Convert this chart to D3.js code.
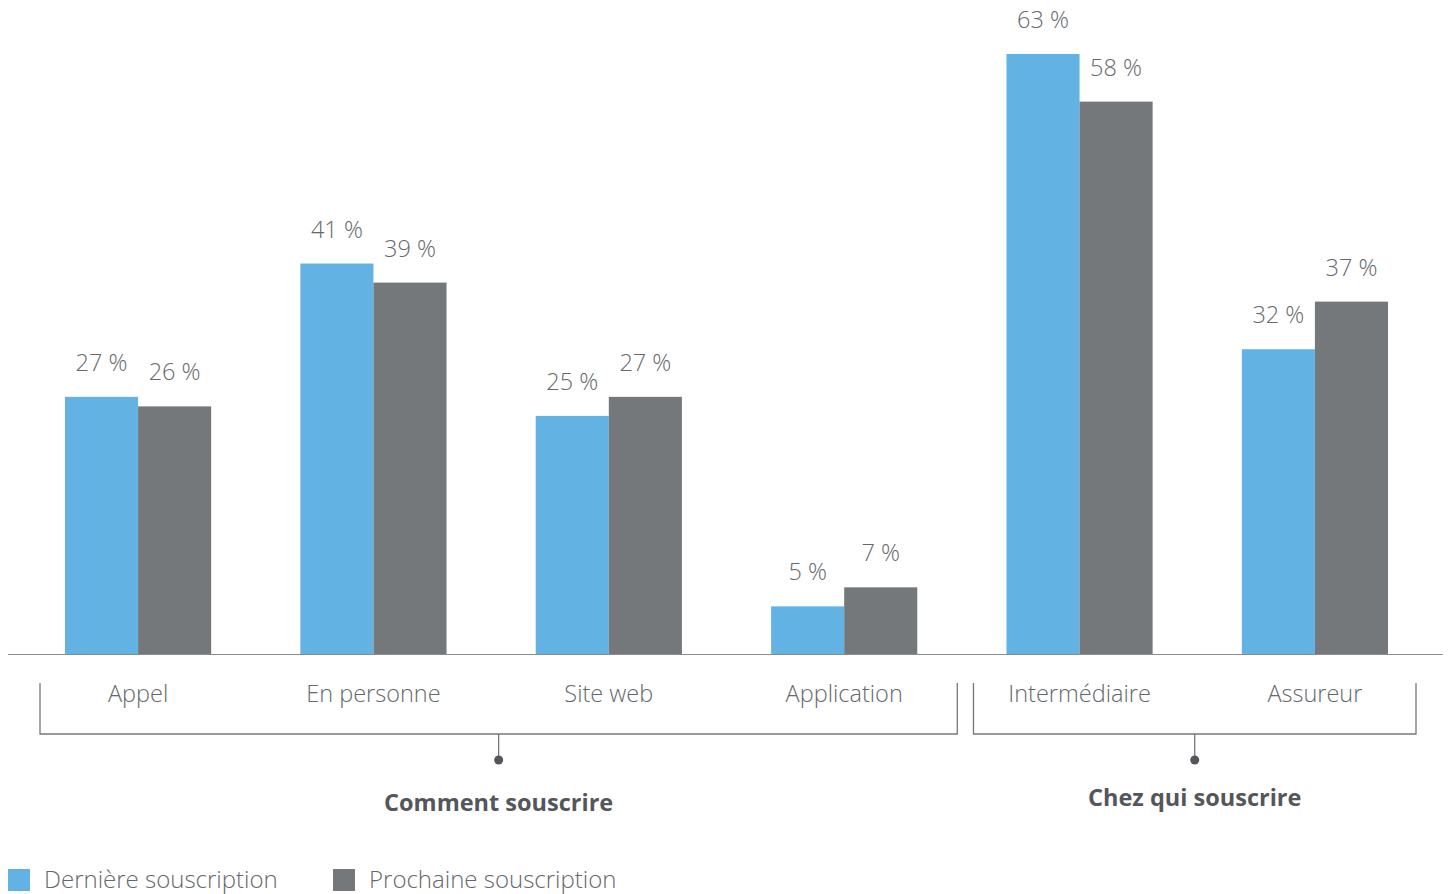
<!DOCTYPE html>
<html><head><meta charset="utf-8">
<script src="https://cdn.jsdelivr.net/npm/d3@7"></script>
<style>body{margin:0;background:#fff}svg{display:block;font-family:"Open Sans",sans-serif}</style>
</head><body><svg id="c" width="1448" height="894"></svg>
<script>
const categories = ["Appel","En personne","Site web","Application","Intermédiaire","Assureur"];
const series = ["Dernière souscription","Prochaine souscription"];
const derniere = [27,41,25,5,63,32];
const prochaine = [26,39,27,7,58,37];
const groups = [
  {label:"Comment souscrire", first:"Appel", last:"Application", padL:25, padR:40, titleY:811},
  {label:"Chez qui souscrire", first:"Intermédiaire", last:"Assureur", padL:33, padR:28, titleY:806}
];
const colors = ["#62b3e4","#75787b"];
const textCol = "#65686b";

const svg = d3.select("#c");
const x = d3.scaleBand().domain(categories).range([20.4,1432.6]).paddingInner(0.379).paddingOuter(0.1895);
const xs = d3.scaleBand().domain(series).range([0,x.bandwidth()]);
const y = d3.scaleLinear().domain([0,63]).range([654,54]);

const data = categories.map((c,i)=>({c, vals:[derniere[i],prochaine[i]]}));
const g = svg.selectAll("g.grp").data(data).join("g").attr("transform",d=>`translate(${x(d.c)},0)`);
g.selectAll("rect").data(d=>d.vals.map((v,j)=>({v,s:series[j],j}))).join("rect")
  .attr("x",d=>xs(d.s)).attr("width",xs.bandwidth())
  .attr("y",d=>y(d.v)).attr("height",d=>y(0)-y(d.v)).attr("fill",d=>colors[d.j]);
g.selectAll("text.val").data(d=>d.vals.map((v,j)=>({v,s:series[j],j}))).join("text")
  .attr("class","val").attr("x",d=>xs(d.s)+xs.bandwidth()/2).attr("y",d=>y(d.v)-26)
  .attr("text-anchor","middle").attr("font-size",23.5).attr("font-weight",300).attr("fill",textCol)
  .text(d=>d.v+" %");

// axis baseline
svg.append("line").attr("x1",8).attr("x2",1443).attr("y1",y(0)+0.5).attr("y2",y(0)+0.5).attr("stroke","#8a8c8f").attr("stroke-width",1.2);

// category labels
svg.selectAll("text.cat").data(categories).join("text").attr("class","cat")
  .attr("x",d=>x(d)+x.bandwidth()/2).attr("y",702).attr("text-anchor","middle")
  .attr("font-size",23.5).attr("font-weight",300).attr("fill",textCol).text(d=>d);

// brackets
groups.forEach(gr=>{
  const l = x(gr.first)-gr.padL, r = x(gr.last)+x.bandwidth()+gr.padR, m=(l+r)/2;
  svg.append("path").attr("d",`M${l},683V734H${r}V683`).attr("fill","none").attr("stroke","#75787b").attr("stroke-width",1.3);
  svg.append("line").attr("x1",m).attr("x2",m).attr("y1",734).attr("y2",760).attr("stroke","#75787b").attr("stroke-width",1.3);
  svg.append("circle").attr("cx",m).attr("cy",760).attr("r",4.5).attr("fill","#53565a");
  svg.append("text").attr("x",m).attr("y",gr.titleY).attr("text-anchor","middle").attr("font-size",23.5).attr("font-weight",700).attr("fill","#53565a").text(gr.label);
});

// legend
const legX=[8,333];
series.forEach((s,i)=>{
  svg.append("rect").attr("x",legX[i]).attr("y",869).attr("width",22).attr("height",22).attr("fill",colors[i]);
  svg.append("text").attr("x",legX[i]+36).attr("y",888).attr("font-size",24).attr("font-weight",300).attr("fill",textCol).text(s);
});
</script></body></html>
